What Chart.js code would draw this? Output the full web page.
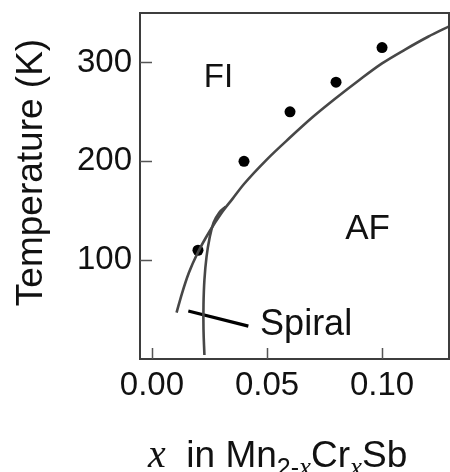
<!DOCTYPE html>
<html>
<head>
<meta charset="utf-8">
<script src="https://cdn.jsdelivr.net/npm/chart.js@4.4.0/dist/chart.umd.min.js"></script>
<style>
  html, body { margin: 0; padding: 0; background: #fff; }
  canvas { display: block; }
</style>
</head>
<body>
<canvas id="phase" width="450" height="472"></canvas>
<script>
// ── Data ─────────────────────────────────────────────────────────────────────
// transition temperatures measured per composition
const sampleX = [0.02, 0.04, 0.06, 0.08, 0.10];
const sampleT = [110, 200, 250, 280, 315];

// FI / AF phase boundary
const fiBoundX = [0.0107, 0.013, 0.016, 0.020, 0.025, 0.030, 0.035, 0.040, 0.050,
                  0.060, 0.070, 0.080, 0.090, 0.100, 0.110, 0.120, 0.1296];
const fiBoundT = [47, 66, 87, 108, 129, 147, 162, 177, 202,
                  224, 245, 264, 282, 299, 313, 326, 337];

// spiral phase boundary
const spiralX = [0.0228, 0.0224, 0.0224, 0.0228, 0.0237, 0.0250, 0.0268, 0.0292, 0.0320];
const spiralT = [4, 30, 55, 80, 103, 122, 138, 148, 154];

// leader line for the "Spiral" label
const leaderX = [0.0158, 0.0419];
const leaderT = [48.5, 33.3];

const xTickVals = [0, 0.05, 0.10];
const yTickVals = [100, 200, 300];

// ── Style ────────────────────────────────────────────────────────────────────
const SANS  = "'Liberation Sans', Arial, Helvetica, sans-serif";
const SERIF = "'Liberation Serif', 'Times New Roman', serif";
const INK   = "#111";
const CURVE = "#474747";

const pts = (xs, ys) => xs.map((v, i) => ({ x: v, y: ys[i] }));

// frame, inward ticks, axis titles and region labels
const decor = {
    id: "decor",
    afterDatasetsDraw(chart) {
        const { ctx, scales: { x, y } } = chart;
        ctx.save();
        ctx.fillStyle = INK;

        // region labels
        ctx.textAlign = "center";
        ctx.textBaseline = "middle";
        ctx.font = `33px ${SANS}`;
        ctx.fillText("FI", x.getPixelForValue(0.0289), y.getPixelForValue(284));
        ctx.font = `35px ${SANS}`;
        ctx.fillText("AF", x.getPixelForValue(0.0937), y.getPixelForValue(131));

        ctx.font = `36px ${SANS}`;
        ctx.textAlign = "left";
        ctx.textBaseline = "alphabetic";
        ctx.fillText("Spiral", x.getPixelForValue(0.047), y.getPixelForValue(24.3));
        ctx.restore();
    },
    afterDraw(chart) {
        const { ctx, chartArea: a, scales: { x, y } } = chart;
        ctx.save();

        ctx.strokeStyle = "#3d3d3d";
        ctx.lineWidth = 2;
        ctx.strokeRect(a.left, a.top, a.right - a.left, a.bottom - a.top);

        ctx.strokeStyle = "#555";
        ctx.lineWidth = 1.5;
        ctx.beginPath();
        xTickVals.forEach((v) => {
            const px = Math.round(x.getPixelForValue(v)) + 0.5;
            ctx.moveTo(px, a.bottom);
            ctx.lineTo(px, a.bottom - 11);
        });
        yTickVals.forEach((v) => {
            const py = Math.round(y.getPixelForValue(v)) + 0.5;
            ctx.moveTo(a.left, py);
            ctx.lineTo(a.left + 12, py);
        });
        ctx.stroke();

        ctx.fillStyle = INK;

        // y title
        ctx.save();
        ctx.translate(42, 172.5);
        ctx.rotate(-Math.PI / 2);
        ctx.font = `37px ${SANS}`;
        ctx.textAlign = "center";
        ctx.textBaseline = "alphabetic";
        ctx.fillText("Temperature (K)", 0, 0);
        ctx.restore();

        // x title: x in Mn(2-x)Cr(x)Sb
        const parts = [
            { t: "x",       f: `italic 40px ${SERIF}`, dy: 0 },
            { t: "  in Mn", f: `37px ${SANS}`,         dy: 0 },
            { t: "2-",      f: `25px ${SANS}`,         dy: 9 },
            { t: "x",       f: `italic 27px ${SERIF}`, dy: 9 },
            { t: "Cr",      f: `37px ${SANS}`,         dy: 0 },
            { t: "x",       f: `italic 27px ${SERIF}`, dy: 9 },
            { t: "Sb",      f: `37px ${SANS}`,         dy: 0 },
        ];
        let cx = 148;
        const base = 467;
        ctx.textAlign = "left";
        ctx.textBaseline = "alphabetic";
        parts.forEach((p) => {
            ctx.font = p.f;
            ctx.fillText(p.t, cx, base + p.dy);
            cx += ctx.measureText(p.t).width;
        });

        ctx.restore();
    },
};

// ── Chart ────────────────────────────────────────────────────────────────────
new Chart(document.getElementById("phase").getContext("2d"), {
    type: "scatter",
    data: {
        datasets: [
            { data: pts(fiBoundX, fiBoundT), showLine: true, borderColor: CURVE, borderWidth: 2.6, pointRadius: 0, cubicInterpolationMode: "monotone", fill: false },
            { data: pts(spiralX, spiralT),   showLine: true, borderColor: CURVE, borderWidth: 2.6, pointRadius: 0, tension: 0.4, fill: false },
            { data: pts(leaderX, leaderT),   showLine: true, borderColor: "#000", borderWidth: 3.2, pointRadius: 0, tension: 0 },
            { data: pts(sampleX, sampleT),   showLine: false, pointRadius: 5.5, pointBackgroundColor: "#000", pointBorderWidth: 0 },
        ],
    },
    plugins: [decor],
    options: {
        responsive: false,
        animation: false,
        devicePixelRatio: 1,
        layout: { autoPadding: false, padding: { top: 13, right: 1, left: 0, bottom: 0 } },
        plugins: { legend: { display: false }, tooltip: { enabled: false } },
        scales: {
            x: {
                type: "linear",
                min: -0.0052,
                max: 0.1291,
                grid: { display: false, drawTicks: false },
                border: { display: false },
                afterBuildTicks: (s) => { s.ticks = xTickVals.map((v) => ({ value: v })); },
                afterFit: (s) => { s.height = 113; s.paddingLeft = 0; s.paddingRight = 0; },
                ticks: {
                    padding: 7,
                    color: INK,
                    font: { family: SANS, size: 33 },
                    callback: (v) => v.toFixed(2),
                },
            },
            y: {
                type: "linear",
                min: 0,
                max: 350,
                grid: { display: false, drawTicks: false },
                border: { display: false },
                afterBuildTicks: (s) => { s.ticks = yTickVals.map((v) => ({ value: v })); },
                afterFit: (s) => { s.width = 140; s.paddingTop = 0; s.paddingBottom = 0; },
                ticks: {
                    padding: 8,
                    color: INK,
                    font: { family: SANS, size: 33 },
                    callback: (v) => String(v),
                },
            },
        },
    },
});
</script>
</body>
</html>
